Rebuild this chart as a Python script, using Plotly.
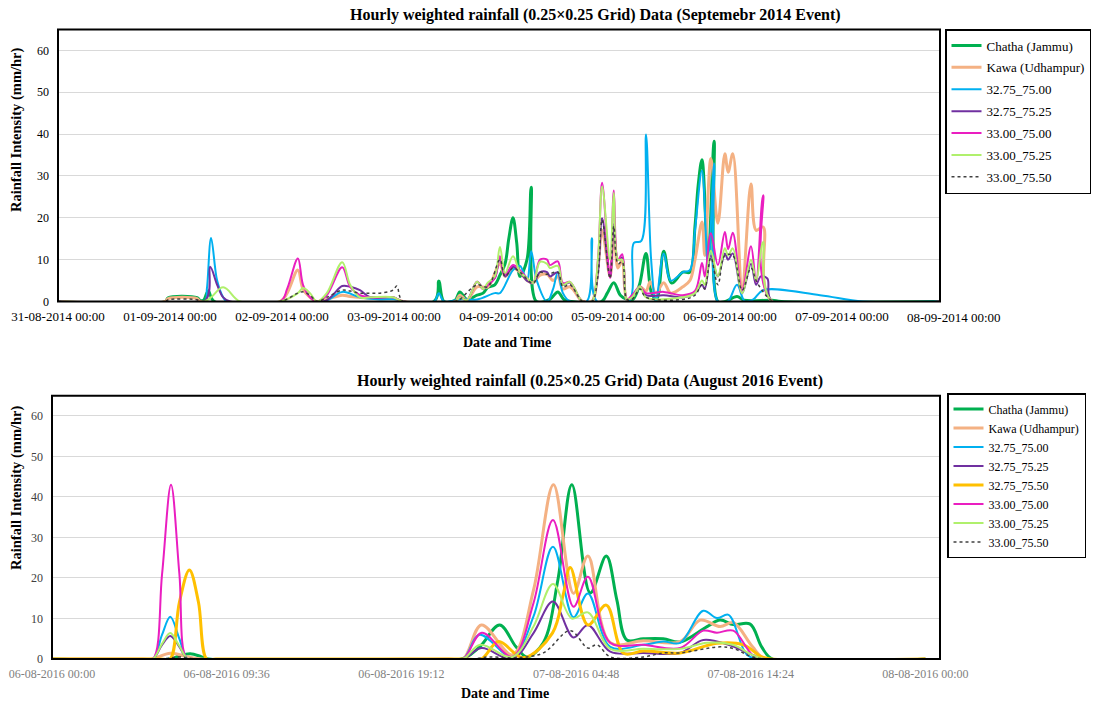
import numpy as np
import pandas as pd
import plotly.graph_objects as go

# ---------------- September 2014 event (hours after 31-08-2014 00:00) ----------------
names14 = ["Chatha (Jammu)", "Kawa (Udhampur)", "32.75_75.00", "32.75_75.25",
           "33.00_75.00", "33.00_75.25", "33.00_75.50"]

h14_chatha = [0, 23.0, 23.6, 29.8, 30.5, 31.2, 32.2, 33.5, 80.6, 81.6, 82.7, 85.1, 86.1, 87.6, 89.8, 91.1, 92.1, 93.6, 94.7, 95.8, 96.6, 97.5,
              98.3, 99.0, 100.5, 101.4, 102.5, 105.4, 107.1, 108.4, 110.0, 116.5, 117.7, 119.1, 120.5, 121.9, 123.2, 124.6, 126.0, 127.2, 128.3, 129.8,
              131.5, 133.9, 135.4, 136.5, 137.2, 138.0, 139.3, 140.6, 141.4, 143.0, 145.5, 147.0, 153.0, 155.0, 189.0]
v14_chatha = [0, 0, 0.9, 0.9, 0.2, 0.3, 2.5, 0, 0, 4.9, 0, 0.3, 2.3, 0.5, 1.5, 2.0, 3.4, 4.0, 6.3, 9.0, 15.0, 20.0,
              14.0, 6.0, 10.0, 27.3, 0, 0.5, 2.3, 0.5, 0, 0, 2.0, 4.5, 1.5, 0.5, 0.5, 4.0, 11.5, 2.0, 0.5, 12.0,
              4.4, 7.0, 7.0, 18.0, 28.0, 33.9, 10.0, 38.3, 0, 0, 1.2, 0.3, 0.3, 0, 0]

h14_kawa = [0, 23.0, 23.6, 29.8, 30.5, 47.6, 49.1, 51.4, 52.5, 54.0, 55.5, 57.6, 60.9, 62.6, 66.9, 71.8, 73.9,
            85.1, 86.1, 87.6, 89.8, 92.1, 94.7, 95.8, 97.5, 99.0, 100.5, 101.8, 103.3, 104.8, 106.1, 107.1, 108.2, 109.7, 111.9, 112.5,
            114.4, 115.7, 116.6, 118.3, 119.1, 120.0, 120.9, 121.9, 123.0, 124.7, 126.0, 126.9, 128.1, 129.8, 131.3, 133.9, 135.4, 136.5,
            138.0, 138.6, 139.9, 141.4, 142.9, 143.6, 144.6, 146.6, 148.5, 149.6, 151.1, 153.0, 189.0]
v14_kawa = [0, 0, 0.7, 0.7, 0, 0, 2.0, 7.5, 3.0, 1.0, 0, 0.5, 1.5, 1.2, 0.8, 0.8, 0,
            0, 1.5, 0.3, 3.5, 3.5, 9.0, 6.0, 8.0, 7.0, 5.0, 4.5, 6.3, 6.5, 5.0, 6.0, 3.0, 3.5, 0.5, 0,
            0, 8.0, 17.0, 6.0, 16.5, 8.0, 10.0, 0.5, 1.0, 3.5, 2.5, 4.7, 2.0, 4.5, 2.0, 3.5, 5.0, 10.0,
            19.0, 11.0, 34.2, 18.7, 35.3, 30.9, 35.3, 3.5, 28.1, 17.0, 17.8, 0, 0]

h14_c7500 = [0, 31.4, 31.9, 32.8, 34.1, 35.4, 36.2, 57.0, 60.9, 64.7, 69.0, 72.6, 73.9, 80.6, 81.6, 82.7,
             86.1, 89.8, 93.6, 94.7, 97.5, 99.0, 100.5, 101.4, 102.6, 104.8, 106.1, 107.1, 108.2, 109.7, 113.3, 114.4, 115.5,
             122.3, 123.4, 125.0, 126.0, 127.1, 128.1, 129.8, 131.3, 133.9, 135.4, 136.5, 138.0, 139.3, 140.6, 141.4,
             143.5, 145.5, 147.2, 149.0, 151.1, 163.3, 172.5, 189.0]
v14_c7500 = [0, 0, 3.0, 15.2, 5.0, 1.0, 0, 0, 2.3, 1.0, 0.5, 0.5, 0, 0, 2.0, 0,
             0.5, 0.5, 2.0, 2.0, 7.5, 8.5, 5.0, 12.0, 5.0, 0, 3.0, 7.0, 2.0, 0, 0, 15.1, 0,
             0, 14.0, 14.5, 39.9, 10.0, 0, 11.5, 5.0, 7.0, 7.5, 17.0, 31.3, 8.0, 33.0, 0,
             0, 4.0, 0, 0.5, 2.7, 1.5, 0, 0]

h14_c7525 = [0, 31.4, 32.6, 34.1, 35.4, 36.9, 57.0, 60.9, 62.6, 64.7, 66.9, 71.8, 73.9,
             85.1, 86.1, 87.6, 89.8, 91.1, 92.1, 93.6, 94.7, 95.8, 97.5, 99.0, 100.5, 101.8, 103.3, 104.8, 105.4, 107.1, 108.2, 109.7,
             111.9, 112.5, 114.4, 115.7, 116.6, 118.3, 119.1, 120.0, 120.9, 121.9, 123.0, 124.7, 126.0, 129.8, 133.9, 136.5, 138.0, 138.6, 139.9,
             141.4, 142.9, 143.6, 144.6, 146.6, 148.5, 149.6, 150.6, 152.0, 153.0, 189.0]
v14_c7525 = [0, 0, 8.3, 4.0, 1.0, 0, 0, 3.7, 3.5, 2.7, 1.0, 1.0, 0,
             0, 1.0, 0.3, 4.7, 3.0, 4.0, 5.6, 10.7, 6.0, 8.3, 7.0, 5.0, 4.4, 7.0, 7.0, 6.0, 7.0, 4.0, 4.5,
             0.5, 0, 0, 7.0, 19.9, 5.9, 18.5, 10.0, 10.5, 0.5, 1.0, 3.5, 1.5, 1.5, 1.0, 2.0, 4.0, 3.0, 11.0,
             6.0, 11.5, 10.0, 11.5, 2.0, 9.0, 4.0, 6.0, 5.5, 0, 0]

h14_c0000 = [0, 47.6, 49.1, 51.4, 52.5, 54.0, 55.5, 57.6, 60.9, 62.6, 64.7, 66.9, 71.8, 73.9,
             85.1, 86.1, 87.6, 89.8, 91.1, 92.1, 93.6, 94.7, 95.8, 97.5, 99.0, 100.5, 101.8, 103.3, 104.8, 105.4, 107.1, 108.2, 109.7,
             111.9, 112.5, 114.4, 115.7, 116.6, 118.3, 119.1, 120.0, 120.9, 121.9, 123.0, 124.7, 126.0, 129.8, 133.9, 136.5, 138.0, 138.6, 139.9,
             141.4, 142.9, 143.6, 144.6, 146.6, 148.5, 149.6, 151.1, 153.0, 189.0]
v14_c0000 = [0, 0, 3.0, 10.3, 4.0, 1.0, 0, 1.5, 8.2, 3.5, 1.5, 1.0, 1.0, 0,
             0, 1.0, 0.3, 4.7, 3.0, 4.0, 5.6, 10.8, 6.5, 8.7, 7.5, 5.6, 4.4, 10.0, 10.0, 8.7, 9.6, 4.4, 4.7,
             0.5, 0, 0, 10.0, 28.4, 5.6, 26.5, 10.0, 11.3, 0.5, 1.5, 3.5, 2.0, 2.3, 1.5, 2.5, 9.2, 6.0, 16.3,
             8.7, 16.6, 12.5, 16.4, 2.7, 13.2, 4.7, 25.4, 0, 0]

h14_c0025 = [0, 31.4, 35.4, 39.0, 47.6, 51.4, 52.5, 54.0, 55.5, 57.6, 60.9, 62.6, 64.7, 66.9, 71.8, 73.9,
             85.1, 86.1, 87.6, 89.8, 91.1, 92.1, 93.6, 94.7, 95.8, 97.5, 99.0, 100.5, 101.8, 103.3, 104.8, 105.4, 107.1, 108.2, 109.7,
             111.9, 112.5, 114.4, 115.7, 116.6, 118.3, 119.1, 120.0, 120.9, 121.9, 123.0, 124.7, 126.0, 133.9, 136.5, 138.0, 138.6, 139.9,
             141.4, 142.9, 143.6, 144.6, 146.6, 148.5, 149.6, 151.1, 153.0, 189.0]
v14_c0025 = [0, 0, 3.4, 0, 0, 2.0, 3.2, 2.0, 0, 2.0, 9.4, 4.0, 1.0, 1.0, 1.0, 0,
             0, 1.0, 0.3, 4.7, 3.0, 4.5, 6.0, 13.0, 6.8, 10.8, 7.0, 5.6, 4.4, 9.5, 9.0, 8.0, 8.5, 4.0, 4.7,
             0.5, 0, 0, 10.0, 27.5, 10.0, 26.0, 10.0, 10.0, 0.5, 1.0, 3.5, 1.0, 1.0, 2.0, 5.0, 4.0, 12.1,
             6.0, 12.7, 11.0, 12.7, 2.0, 10.0, 5.0, 14.2, 0, 0]

h14_c0050 = [0, 23.0, 23.6, 29.8, 30.5, 47.6, 51.4, 52.5, 54.0, 55.5, 57.6, 60.9, 62.6, 64.7, 66.9, 69.0, 71.8, 72.6, 73.9,
             85.1, 86.1, 89.8, 92.1, 94.7, 95.8, 97.5, 99.0, 101.8, 103.3, 104.8, 107.1, 108.2, 109.7,
             111.9, 112.5, 114.4, 115.7, 116.6, 118.3, 119.1, 120.0, 120.9, 121.9, 123.0, 124.7, 126.0, 133.9, 136.5, 138.0, 138.6, 139.9,
             141.4, 142.9, 144.6, 146.6, 148.5, 149.6, 151.1, 152.1, 153.6, 189.0]
v14_c0050 = [0, 0, 0.4, 0.4, 0, 0, 2.0, 2.3, 1.5, 0, 1.0, 2.7, 2.5, 2.0, 2.0, 2.0, 2.7, 3.7, 0,
             0, 0.5, 4.0, 3.5, 10.0, 6.0, 8.0, 7.0, 4.4, 7.0, 6.5, 7.0, 3.5, 4.0,
             0.5, 0, 0, 6.0, 19.5, 5.5, 18.0, 9.0, 9.5, 0.5, 0.5, 3.0, 1.0, 0.5, 1.5, 4.0, 3.0, 10.5,
             4.0, 11.0, 11.0, 2.7, 8.0, 5.0, 2.3, 1.0, 0, 0]

ticks14 = ["31-08-2014 00:00", "01-09-2014 00:00", "02-09-2014 00:00", "03-09-2014 00:00", "04-09-2014 00:00",
           "05-09-2014 00:00", "06-09-2014 00:00", "07-09-2014 00:00", "08-09-2014 00:00"]

# ---------------- August 2016 event (hours after 06-08-2016 00:00) ----------------
names16 = ["Chatha (Jammu)", "Kawa (Udhampur)", "32.75_75.00", "32.75_75.25", "32.75_75.50",
           "33.00_75.00", "33.00_75.25", "33.00_75.50"]

h16_chatha = [0, 6.5, 7.0, 7.6, 8.2, 8.6, 22.5, 23.5, 24.6, 25.5, 26.1, 27.0, 27.8, 28.57, 29.58, 30.46, 31.04, 31.59, 32.49, 33.59, 34.52,
              36.0, 36.72, 37.44, 38.37, 39.0, 39.6, 48.0]
v16_chatha = [0, 0, 0.8, 1.3, 0.6, 0, 0, 3.0, 8.4, 3.0, 0.5, 4.0, 19.5, 43.0, 16.3, 25.4, 14.6, 4.7, 5.0, 5.0, 4.2,
              8.0, 9.6, 8.5, 8.6, 3.0, 0, 0]

h16_kawa = [0, 5.0, 5.5, 6.5, 7.5, 8.2, 21.8, 22.6, 23.6, 25.3, 26.46, 27.56, 28.66, 29.45, 30.68, 32.5, 34.52, 35.62, 36.72, 37.44, 38.5, 39.2, 48.0]
v16_kawa = [0, 0, 0, 1.4, 0.5, 0, 0, 0, 8.4, 1.0, 17.0, 43.0, 16.2, 25.4, 4.0, 4.5, 4.3, 9.6, 8.0, 9.0, 3.0, 0, 0]

h16_c7500 = [0, 5.0, 5.55, 6.05, 6.5, 7.0, 7.45, 8.0, 21.8, 22.6, 23.5, 25.3, 26.46, 27.53, 28.66, 29.45, 30.68, 32.5, 33.6, 34.52,
             35.79, 36.54, 37.18, 38.2, 39.0, 48.0]
v16_c7500 = [0, 0, 0, 6.0, 10.4, 5.0, 0, 0, 0, 0, 6.0, 0.5, 10.5, 27.7, 10.3, 16.2, 3.0, 3.5, 4.3, 4.0,
             11.9, 10.1, 10.9, 1.0, 0, 0]

h16_c7525 = [0, 5.0, 5.55, 6.05, 6.5, 7.0, 7.45, 8.0, 21.8, 22.6, 23.6, 25.3, 26.46, 27.53, 28.66, 29.45, 30.68, 32.5, 34.52, 35.79,
             37.18, 38.5, 39.2, 48.0]
v16_c7525 = [0, 0, 0, 3.5, 5.7, 3.0, 0, 0, 0, 0, 2.7, 0, 6.4, 14.2, 5.3, 8.4, 1.8, 1.5, 1.5, 4.7,
             3.5, 1.0, 0, 0]

h16_c7550 = [0, 6.0, 6.49, 7.0, 7.55, 8.05, 8.5, 9.0, 22.8, 23.6, 24.54, 25.9, 27.5, 28.1, 28.48, 29.45, 30.46, 31.41, 32.5, 34.52,
             36.54, 38.0, 39.0, 39.5, 48.0]
v16_c7550 = [0, 0, 0, 14.0, 22.0, 14.0, 0, 0, 0, 0, 4.3, 0.3, 6.4, 16.0, 22.6, 8.4, 13.3, 1.4, 2.0, 1.5,
             3.9, 3.5, 0.5, 0, 0]

h16_c0000 = [0, 5.0, 5.55, 6.05, 6.54, 7.0, 7.42, 8.0, 21.8, 22.6, 23.62, 25.3, 26.46, 27.53, 28.66, 29.45, 30.68, 32.5, 34.52, 35.79,
             36.54, 37.44, 38.5, 39.2, 48.0]
v16_c0000 = [0, 0, 0, 21.0, 43.0, 21.0, 0, 0, 0, 0, 6.5, 0.5, 13.8, 34.3, 12.9, 20.3, 4.0, 3.5, 2.7, 7.0,
             6.5, 7.0, 1.0, 0, 0]

h16_c0025 = [0, 5.0, 5.55, 6.05, 6.5, 7.0, 7.45, 8.0, 21.8, 22.6, 23.53, 25.3, 26.46, 27.53, 28.57, 29.45, 30.68, 32.5, 34.52, 36.0,
             37.4, 38.5, 39.2, 48.0]
v16_c0025 = [0, 0, 0, 3.8, 6.4, 3.2, 0, 0, 0, 0, 3.5, 0.5, 8.0, 18.5, 10.0, 11.5, 2.5, 2.5, 2.5, 4.0,
             3.5, 1.0, 0, 0]

h16_c0050 = [0, 6.0, 7.0, 8.0, 23.0, 24.0, 25.5, 27.0, 28.48, 29.45, 29.94, 30.7, 32.5, 33.6, 34.52, 36.72, 37.5, 38.5, 39.5, 48.0]
v16_c0050 = [0, 0, 0.5, 0, 0, 0.5, 0.3, 1.5, 7.0, 2.7, 3.5, 0.5, 0.5, 1.5, 1.5, 3.0, 2.5, 0.5, 0, 0]

ticks16 = ["06-08-2016 00:00", "06-08-2016 09:36", "06-08-2016 19:12", "07-08-2016 04:48",
           "07-08-2016 14:24", "08-08-2016 00:00"]

# ---------------- styles ----------------
STY = {
    "Chatha (Jammu)": dict(color="#00b050", width=3),
    "Kawa (Udhampur)": dict(color="#f4b183", width=3),
    "32.75_75.00": dict(color="#00b0f0", width=2),
    "32.75_75.25": dict(color="#7030a0", width=2),
    "32.75_75.50": dict(color="#ffc000", width=3),
    "33.00_75.00": dict(color="#ea1ec0", width=2),
    "33.00_75.25": dict(color="#b0f06c", width=2),
    "33.00_75.50": dict(color="#404040", width=1.5, dash="dot"),
}
SERIF = "Liberation Serif, Times New Roman, serif"


def to_time(base, hours):
    return pd.Timestamp(base) + pd.to_timedelta(np.asarray(hours, dtype=float), unit="h")


data14 = [(h14_chatha, v14_chatha), (h14_kawa, v14_kawa), (h14_c7500, v14_c7500), (h14_c7525, v14_c7525),
          (h14_c0000, v14_c0000), (h14_c0025, v14_c0025), (h14_c0050, v14_c0050)]
data16 = [(h16_chatha, v16_chatha), (h16_kawa, v16_kawa), (h16_c7500, v16_c7500), (h16_c7525, v16_c7525),
          (h16_c7550, v16_c7550), (h16_c0000, v16_c0000), (h16_c0025, v16_c0025), (h16_c0050, v16_c0050)]

fig = go.Figure()
for i, (nm, (h, v)) in enumerate(zip(names14, data14)):
    fig.add_trace(go.Scatter(x=to_time("2014-08-31", h), y=v, name=nm, mode="lines",
                             line=dict(shape="spline", smoothing=1.0, **STY[nm]),
                             xaxis="x", yaxis="y", legend="legend", legendgroup=f"a{i}"))
for i, (nm, (h, v)) in enumerate(zip(names16, data16)):
    fig.add_trace(go.Scatter(x=to_time("2016-08-06", h), y=v, name=nm, mode="lines",
                             line=dict(shape="spline", smoothing=1.0, **STY[nm]),
                             xaxis="x2", yaxis="y2", legend="legend2", legendgroup=f"b{i}"))

W, H = 1095, 705
def px(xp):
    return xp / W
def py(yp):
    return 1 - yp / H

tv14 = pd.to_datetime(ticks14, format="%d-%m-%Y %H:%M")
tv16 = pd.to_datetime(ticks16, format="%d-%m-%Y %H:%M")

X0_14, X1_14 = 58, 940          # plot-area pixel edges of the 2014 chart
RANGE_H14 = 189.0               # hours shown on the 2014 axis

common_y = dict(range=[0, 65], tickvals=list(range(0, 61, 10)), showgrid=True, gridcolor="#d9d9d9",
                gridwidth=1, zeroline=False, showline=False, ticks="", ticklabelstandoff=8, automargin=False)

fig.update_layout(
    width=W, height=H, autosize=False,
    margin=dict(l=0, r=0, t=0, b=0, pad=0, autoexpand=False),
    paper_bgcolor="white", plot_bgcolor="white",
    font=dict(family=SERIF, color="#000000"),
    showlegend=True,
    xaxis=dict(domain=[px(X0_14), px(X1_14)], type="date",
               range=[to_time("2014-08-31", [0])[0], to_time("2014-08-31", [RANGE_H14])[0]],
               tickvals=tv14, ticktext=ticks14, tickangle=0, showgrid=False, zeroline=False,
               showline=False, ticks="", ticklabelstandoff=5, automargin=False,
               tickfont=dict(size=13, color="#000000", family=SERIF), anchor="y"),
    yaxis=dict(domain=[py(301.5), py(29.5)], tickfont=dict(size=12, color="#000000", family=SERIF),
               anchor="x", **common_y),
    xaxis2=dict(domain=[px(52), px(940)], type="date",
                range=[to_time("2016-08-06", [0])[0], to_time("2016-08-06", [48.8])[0]],
                tickvals=tv16, ticktext=ticks16, tickangle=0, showgrid=False, zeroline=False,
                showline=False, ticks="", ticklabelstandoff=6, automargin=False,
                tickfont=dict(size=12, color="#7f7f7f", family=SERIF), anchor="y2"),
    yaxis2=dict(domain=[py(659), py(395.7)], tickfont=dict(size=12, color="#404040", family=SERIF),
                anchor="x2", **common_y),
    legend=dict(x=px(945), y=py(29), xanchor="left", yanchor="top", bgcolor="white",
                bordercolor="#000000", borderwidth=1.5, tracegroupgap=2,
                font=dict(size=13, family=SERIF, color="#000000"), itemwidth=30),
    legend2=dict(x=px(947), y=py(393), xanchor="left", yanchor="top", bgcolor="white",
                 bordercolor="#000000", borderwidth=1.5, tracegroupgap=0,
                 font=dict(size=12, family=SERIF, color="#000000"), itemwidth=30),
)

# plot-area frames
for xr, yr in (("x domain", "y domain"), ("x2 domain", "y2 domain")):
    fig.add_shape(type="rect", xref=xr, yref=yr, x0=0, x1=1, y0=0, y1=1,
                  line=dict(color="#000000", width=2), fillcolor="rgba(0,0,0,0)", layer="above")

title_font = dict(family=SERIF, size=16, color="#000000")
axis_font = dict(family=SERIF, size=14, color="#000000")
yt_font = dict(family=SERIF, size=14.5, color="#000000")
ann = [
    dict(text="<b>Hourly weighted rainfall (0.25×0.25 Grid) Data (Septemebr 2014 Event)</b>",
         x=px(595), y=py(15), font=title_font),
    dict(text="<b>Hourly weighted rainfall (0.25×0.25 Grid) Data (August 2016 Event)</b>",
         x=px(590), y=py(381), font=title_font),
    dict(text="<b>Date and Time</b>", x=px(507), y=py(342), font=axis_font),
    dict(text="<b>Date and Time</b>", x=px(505), y=py(693), font=axis_font),
    dict(text="<b>Rainfall Intensity (mm/hr)</b>", x=px(16), y=py(130), font=yt_font, textangle=-90),
    dict(text="<b>Rainfall Intensity (mm/hr)</b>", x=px(16), y=py(488), font=yt_font, textangle=-90),
]
for a in ann:
    fig.add_annotation(xref="paper", yref="paper", showarrow=False, xanchor="center", yanchor="middle", **a)

# last tick label of the 2014 axis lies beyond the plotted range: place it with the same scale
last_h = (tv14[-1] - tv14[0]) / pd.Timedelta(hours=1)
last_px = X0_14 + (X1_14 - X0_14) * last_h / RANGE_H14
fig.add_annotation(x=px(last_px), xref="paper", y=py(317), yref="paper", text=ticks14[-1], showarrow=False,
                   xanchor="center", yanchor="middle", font=dict(family=SERIF, size=13, color="#000000"))

fig.write_html("out.html")
